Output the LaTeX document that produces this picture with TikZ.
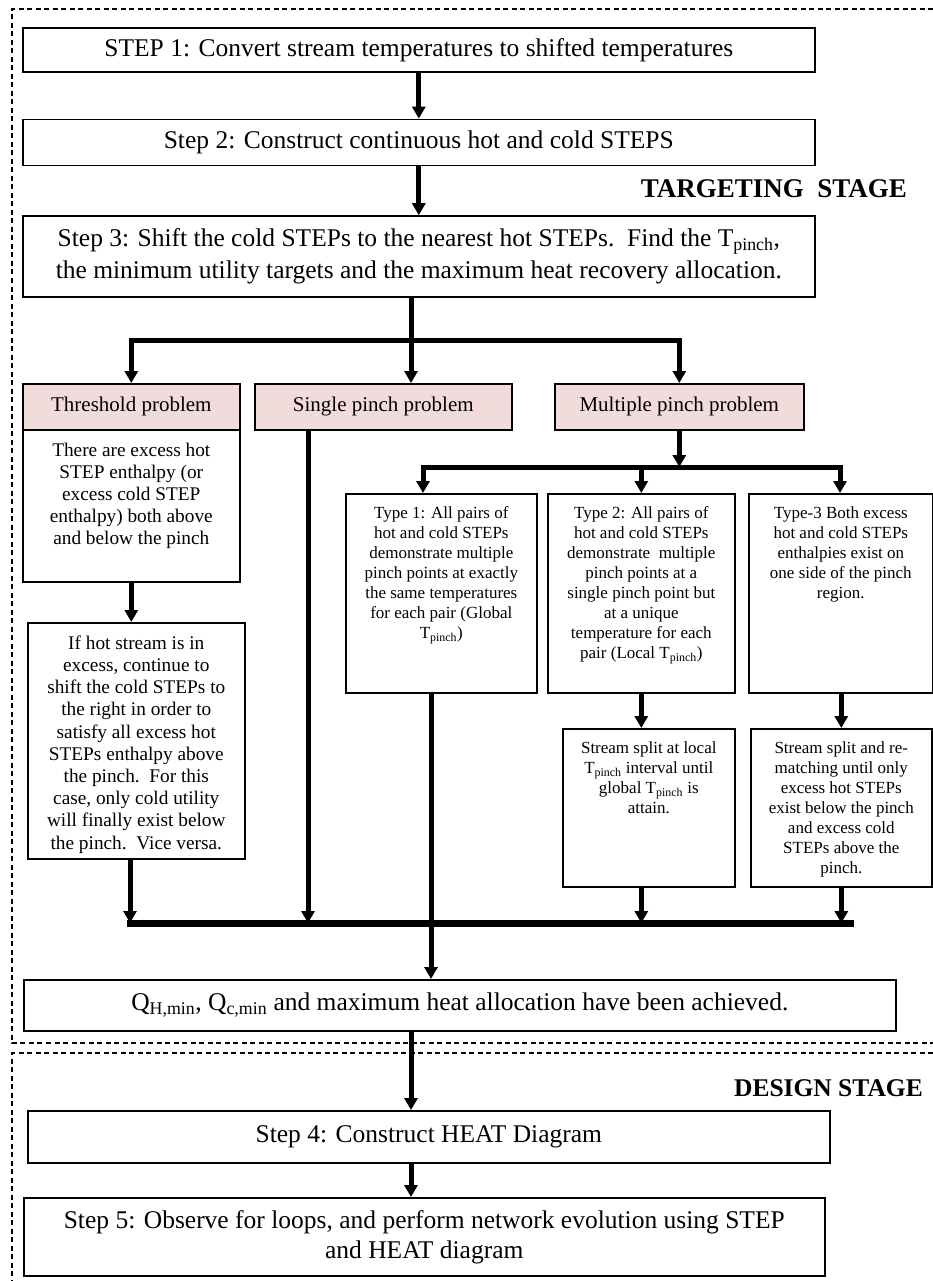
\documentclass[tikz,border=0pt]{standalone}
\usepackage{fontspec}
\setmainfont{Liberation Serif}
\usetikzlibrary{arrows.meta,positioning,calc}
\definecolor{pinkfill}{RGB}{242,220,219}

\begin{document}
\begin{tikzpicture}[
    x=1pt, y=-1pt,
    boxline/.style={
        draw,
        line width=1.6pt,
        inner sep=0pt,
        anchor=north west
    },
    box/.style={
        boxline,
        align=center,
        font=\fontsize{25.5}{32}\selectfont
    },
    probbox/.style={
        box,
        fill=pinkfill,
        minimum height=46pt,
        font=\fontsize{21}{25}\selectfont
    },
    tbox/.style n args={4}{
        boxline,
        font=\fontsize{#3}{#4}\selectfont,
        execute at begin node={\begin{minipage}[c][#2][t]{#1}\centering\vspace{13pt}},
        execute at end node={\end{minipage}}
    },
    stage/.style={inner sep=0pt, anchor=east, font=\bfseries},
    frame/.style={line width=1.3pt, dash pattern=on 5pt off 3.5pt},
    link/.style={line width=5pt},
    flow/.style={-{Triangle[length=12pt,width=13pt]}, line width=5pt}
]
\useasboundingbox (0,0) rectangle (933,1281);

\draw[frame] (933,9) -- (12,9) -- (12,1043) -- (933,1043);
\draw[frame] (933,1053) -- (12,1053) -- (12,1281);

\node[box, minimum width=792pt, minimum height=44pt] (step1) at (22,27) {STEP 1: Convert stream temperatures to shifted temperatures};
\node[box, minimum width=792pt, minimum height=46pt, below=46pt of step1] (step2) {Step 2: Construct continuous hot and cold STEPS};
\node[box, minimum width=792pt, minimum height=81pt, below=49pt of step2] (step3) {Step 3: Shift the cold STEPs to the nearest hot STEPs.\ \ Find the T\textsubscript{pinch},\\the minimum utility targets and the maximum heat recovery allocation.};
\node[stage, font=\fontsize{27}{30}\selectfont\bfseries] (targeting) at (907,189) {TARGETING~ STAGE};

\node[probbox, minimum width=217pt] (th) at (22,383) {Threshold problem};
\node[probbox, minimum width=257pt] (sp) at (254,383) {Single pinch problem};
\node[probbox, minimum width=249pt] (mp) at (554,383) {Multiple pinch problem};

\node[tbox={217pt}{152pt}{19.3}{22.2}] (thbody) at (22,429) {There are excess hot\\STEP enthalpy (or\\excess cold STEP\\enthalpy) both above\\and below the pinch};
\node[tbox={217pt}{236pt}{19.3}{22.2}] (thnext) at (27,622) {If hot stream is in\\excess, continue to\\shift the cold STEPs to\\the right in order to\\satisfy all excess hot\\STEPs enthalpy above\\the pinch.\ \ For this\\case, only cold utility\\will finally exist below\\the pinch.\ \ Vice versa.};

\node[tbox={191pt}{199pt}{17}{20}] (t1) at (345,493) {Type 1: All pairs of\\hot and cold STEPs\\demonstrate multiple\\pinch points at exactly\\the same temperatures\\for each pair (Global\\T\textsubscript{pinch})};
\node[tbox={187pt}{199pt}{17}{20}] (t2) at (547,493) {Type 2: All pairs of\\hot and cold STEPs\\demonstrate\ \ multiple\\pinch points at a\\single pinch point but\\at a unique\\temperature for each\\pair (Local T\textsubscript{pinch})};
\node[tbox={184pt}{199pt}{17}{20}] (t3) at (748,493) {Type-3 Both excess\\hot and cold STEPs\\enthalpies exist on\\one side of the pinch\\region.};
\node[tbox={172pt}{158pt}{17}{20}] (t2b) at (562,728) {Stream split at local\\T\textsubscript{pinch} interval until\\global T\textsubscript{pinch} is\\attain.};
\node[tbox={181pt}{158pt}{17}{20}] (t3b) at (750,728) {Stream split and re-\\matching until only\\excess hot STEPs\\exist below the pinch\\and excess cold\\STEPs above the\\pinch.};

\node[box, minimum width=872pt, minimum height=51pt] (q) at (23,979) {Q\textsubscript{H,min}, Q\textsubscript{c,min} and maximum heat allocation have been achieved.};
\node[stage, font=\fontsize{25.5}{30}\selectfont\bfseries] (design) at (923,1088) {DESIGN STAGE};
\node[box, minimum width=802pt, minimum height=52pt] (step4) at (27,1110) {Step 4: Construct HEAT Diagram};
\node[box, minimum width=801pt, minimum height=78pt, font=\fontsize{25.5}{30}\selectfont] (step5) at (23,1197) {Step 5: Observe for loops, and perform network evolution using STEP\\and HEAT diagram};

\coordinate (fork) at (411,340);
\coordinate (mbar) at (675,467);
\coordinate (mbarL) at (423,467);
\coordinate (mbarR) at (840,467);
\coordinate (mergeL) at (130,923);
\coordinate (mergeR) at (850,923);
\coordinate (spdrop) at (308,923);
\coordinate (drop) at (431,923);

\draw[flow] (step1) -- (step2);
\draw[flow] (step2) -- (step3);
\draw[link] (step3.south -| fork) -- (fork);
\draw[flow] (fork) -| (th.north);
\draw[flow] (fork) -| (mp.north);
\draw[flow] (fork) -- (fork |- sp.north);

\draw[flow] (thbody.south) -- (thbody.south |- thnext.north);
\draw[flow] (mp.south) -- (mp.south |- mbar);
\draw[link, line cap=rect] (mbarL) -- (mbarR);
\draw[flow] (mbarL) -- (mbarL |- t1.north);
\draw[flow] (t2.north |- mbar) -- (t2.north);
\draw[flow] (mbarR) -- (mbarR |- t3.north);
\draw[flow] (t2.south) -- (t2.south |- t2b.north);
\draw[flow] (t3b.north |- t3.south) -- (t3b.north);

\draw[line width=7pt, line cap=rect] (mergeL) -- (mergeR);
\draw[flow] (mergeL |- thnext.south) -- (mergeL);
\draw[flow] (spdrop |- sp.south) -- (spdrop);
\draw[flow] (t2.south |- t2b.south) -- (t2.south |- mergeL);
\draw[flow] (t3b.south) -- (t3b.south |- mergeL);
\draw[flow] (drop |- t1.south) -- (drop |- q.north);

\draw[flow] (q.south -| fork) -- (fork |- step4.north);
\draw[flow] (step4.south -| fork) -- (fork |- step5.north);
\end{tikzpicture}
\end{document}
